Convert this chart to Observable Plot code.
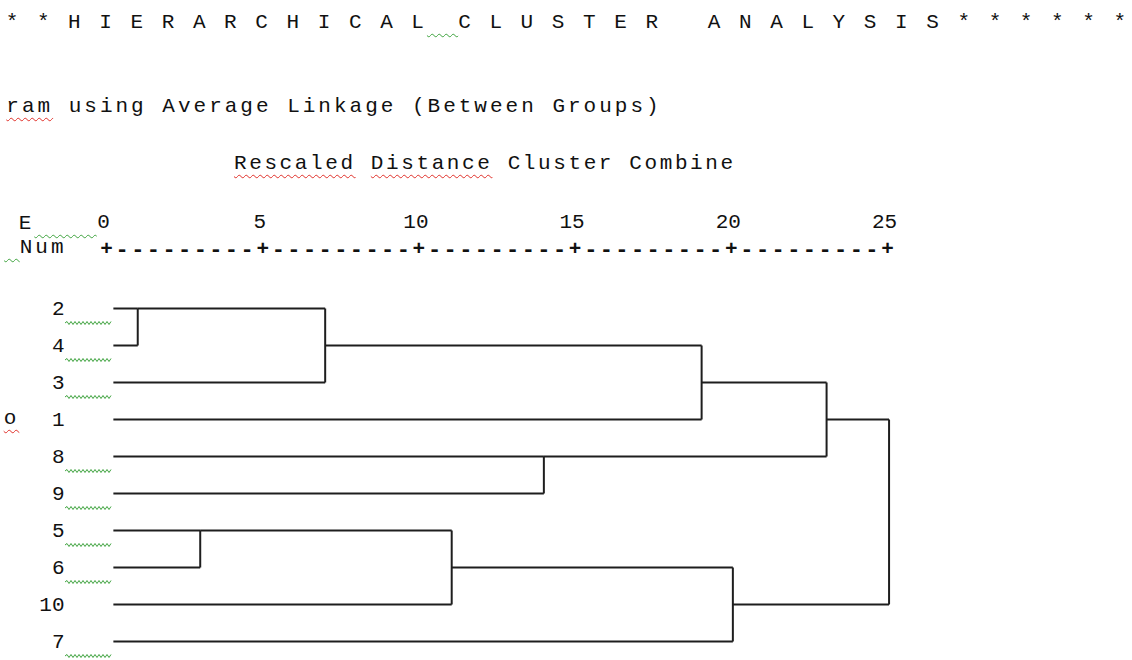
<!DOCTYPE html>
<html>
<head>
<meta charset="utf-8">
<script src="https://cdn.jsdelivr.net/npm/d3@7"></script>
<script src="https://cdn.jsdelivr.net/npm/@observablehq/plot@0.6"></script>
<style>
  html, body { margin: 0; padding: 0; background: #fff; width: 1132px; height: 660px; overflow: hidden; }
  #wrap { position: relative; width: 1132px; height: 660px; }
  #chart { position: absolute; left: 0; top: 0; }
  .t { position: absolute; white-space: pre; font-family: "Liberation Mono", monospace; font-size: 21px; line-height: 21px; letter-spacing: 3px; color: #111; }
  .red { text-decoration: underline wavy #e0302a; text-decoration-thickness: 1px; text-underline-offset: 5px; }
  .grn { text-decoration: underline wavy #3fa33f; text-decoration-thickness: 1px; text-underline-offset: 5px; }
</style>
</head>
<body>
<div id="wrap">
  <div id="chart"></div>
  <div class="t" style="left:5.7px; top:12px;">* * H I E R A R C H I C A L<span class="grn">  </span>C L U S T E R   A N A L Y S I S * * * * * *</div>
  <div class="t" style="left:6.3px; top:96px;"><span class="red">ram</span> using Average Linkage (Between Groups)</div>
  <div class="t" style="left:234px; top:153px; letter-spacing:2.6px;"><span class="red">Rescaled</span> <span class="red">Distance</span> Cluster Combine</div>
  <div class="t" style="left:18.7px; top:213px;">E<span class="grn">    </span></div>
  <div class="t" style="left:4.1px; top:237px;"><span class="grn"> </span>Num</div>
  <div class="t" style="left:3.7px; top:408px;"><span class="red">o</span></div>
</div>
<script>
// ---- data ----
const leaves = ["2", "4", "3", "1", "8", "9", "5", "6", "10", "7"];
const mergeLeft   = ["2", "m1", "m2", "8", "5", "m5", "m6", "m3", "m8"];
const mergeRight  = ["4", "3",  "1",  "9", "6", "10", "7",  "m4", "m7"];
const mergeHeight = [1.0, 7.0, 19.05, 14.0, 3.0, 11.05, 20.05, 23.05, 25.05];
const tickValues = [0, 5, 10, 15, 20, 25];
const flaggedLeaves = ["2", "4", "3", "8", "9", "5", "6", "7"];
const leafStart = 0.22;

// ---- build dendrogram segments (SPSS style: parent row = floor of mid row) ----
const nodes = new Map(leaves.map((l, i) => [l, {row: i, h: leafStart}]));
const segs = [];
mergeHeight.forEach((H, k) => {
  const a = nodes.get(mergeLeft[k]), b = nodes.get(mergeRight[k]);
  for (const c of [a, b]) segs.push({x1: c.h, x2: H, y1: leaves[c.row], y2: leaves[c.row]});
  segs.push({x1: H, x2: H, y1: leaves[a.row], y2: leaves[b.row]});
  nodes.set("m" + (k + 1), {row: Math.floor((a.row + b.row) / 2), h: H});
});

const dashValues = tickValues.slice(0, -1).flatMap(t => d3.range(1, 10).map(j => t + j * 0.5));

const plot = Plot.plot({
  width: 1132,
  height: 660,
  marginTop: 307,
  marginBottom: 18,
  marginLeft: 106,
  marginRight: 245,
  x: {domain: [0, 25], axis: null},
  y: {type: "point", domain: leaves, padding: 0, axis: null},
  style: {fontFamily: "Liberation Mono, monospace", fontSize: "21px", color: "#111", background: "white", overflow: "visible"},
  marks: [
    Plot.link(segs, {x1: "x1", x2: "x2", y1: "y1", y2: "y2", stroke: "#1e1e1e", strokeWidth: 2}),
    Plot.text(leaves, {y: d => d, text: d => d, frameAnchor: "left", textAnchor: "end", dx: -42, fill: "#111"}),
    Plot.text(tickValues, {x: d => d, text: d => String(d), frameAnchor: "top", lineAnchor: "middle", dy: -86, dx: -3, fill: "#111"}),
    Plot.text(tickValues, {x: d => d, text: () => "+", frameAnchor: "top", lineAnchor: "middle", dy: -59, fill: "#111", fontWeight: "bold"}),
    Plot.text(dashValues, {x: d => d, text: () => "-", frameAnchor: "top", lineAnchor: "middle", dy: -59, fill: "#111", fontWeight: "bold", fontSize: 22})
  ]
});
document.getElementById("chart").appendChild(plot);

// grammar-check squiggles under flagged leaf labels, placed with the plot's scales
const xs = plot.scale("x"), ys = plot.scale("y");
const svg = d3.select(plot);
for (const leaf of flaggedLeaves) {
  const y = ys.apply(leaf) + 15;
  const x0 = xs.apply(0) - 41, x1 = xs.apply(leafStart);
  let d = `M${x0},${y}`;
  let up = true;
  for (let x = x0 + 2; x <= x1; x += 2) { d += `L${x},${y + (up ? -1.5 : 1.5)}`; up = !up; }
  svg.append("path").attr("d", d).attr("fill", "none").attr("stroke", "#3fa33f").attr("stroke-width", 1);
}
</script>
</body>
</html>
